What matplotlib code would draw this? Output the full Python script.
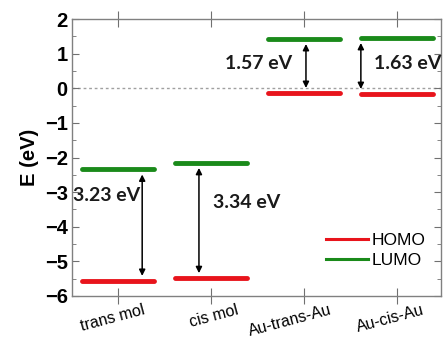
import matplotlib
matplotlib.use("Agg")
import matplotlib.pyplot as plt
import matplotlib.transforms as mtransforms
from matplotlib.ticker import MultipleLocator

categories = ["trans mol", "cis mol", "Au-trans-Au", "Au-cis-Au"]
homo = [-5.57, -5.49, -0.14, -0.17]
lumo = [-2.34, -2.15, 1.43, 1.46]
gap_labels = ["3.23 eV", "3.34 eV", "1.57 eV", "1.63 eV"]

red = "#e8141c"
green = "#1a8a1a"

fig = plt.figure(figsize=(4.44, 3.41), dpi=100)
ax = fig.add_axes([0.162, 0.132, 0.831, 0.812])

xs = list(range(1, len(categories) + 1))
hw = 0.39
for x, h, l in zip(xs, homo, lumo):
    ax.plot([x - hw, x + hw], [h, h], color=red, lw=3.5, solid_capstyle="round")
    ax.plot([x - hw, x + hw], [l, l], color=green, lw=3.5, solid_capstyle="round")

ax.axhline(0, color="#a0a0a0", lw=1.0, ls=(0, (2, 2)), zorder=0)

arrow_dx = [0.26, -0.13, 0.02, -0.39]
text_pos = [(-0.48, -3.09, "left"), (0.02, -3.3, "left"), (-0.85, 0.73, "left"), (-0.25, 0.73, "left")]
for x, h, l, dx, lab, (tx, ty, ha) in zip(xs, homo, lumo, arrow_dx, gap_labels, text_pos):
    ax.annotate("", xy=(x + dx, h + 0.15), xytext=(x + dx, l - 0.15),
                arrowprops=dict(arrowstyle="<|-|>", color="black", lw=1.1,
                                mutation_scale=9, shrinkA=0, shrinkB=0))
    ax.text(x + tx, ty, lab, ha=ha, va="center", fontsize=14,
            fontweight="bold", family="Lato", color="#1a1a1a")

# legend
ax.plot([], [], color=red, lw=2.2, label="HOMO")
ax.plot([], [], color=green, lw=2.2, label="LUMO")
leg = ax.legend(loc="lower right", bbox_to_anchor=(1.0, 0.045), frameon=False,
                handlelength=2.4, handletextpad=0.2, labelspacing=0.25,
                prop={"family": "Liberation Sans", "size": 12.5})

ax.set_xlim(0.505, 4.47)
ax.set_ylim(-6, 2)
ax.set_xticks(xs)
ax.yaxis.set_major_locator(MultipleLocator(1))
ax.yaxis.set_minor_locator(MultipleLocator(0.5))
ax.tick_params(axis="both", which="both", direction="in", top=True, right=True,
               color="#707070")
ax.tick_params(axis="y", which="major", length=5, pad=3)
ax.tick_params(axis="y", which="minor", length=3)
ax.tick_params(axis="x", which="major", bottom=True, direction="inout", length=12, pad=1)
ax.tick_params(axis="x", which="major", top=True, labeltop=False)
for s in ax.spines.values():
    s.set_color("#808080")
    s.set_linewidth(1.0)

ax.set_xticklabels(categories, rotation=15, fontsize=11.5, family="Liberation Sans",
                   ha="right", va="top", rotation_mode="anchor")
offset = mtransforms.ScaledTranslation(25 / 100, 3 / 100, fig.dpi_scale_trans)
for lab in ax.get_xticklabels():
    lab.set_transform(lab.get_transform() + offset)
for lab in ax.get_yticklabels():
    lab.set_fontweight("bold")
    lab.set_fontsize(14.5)
    lab.set_family("Liberation Sans")

ax.set_ylabel("E (eV)", fontsize=14.5, fontweight="bold", family="Liberation Sans", labelpad=4)

fig.savefig("out.png", dpi=100)
